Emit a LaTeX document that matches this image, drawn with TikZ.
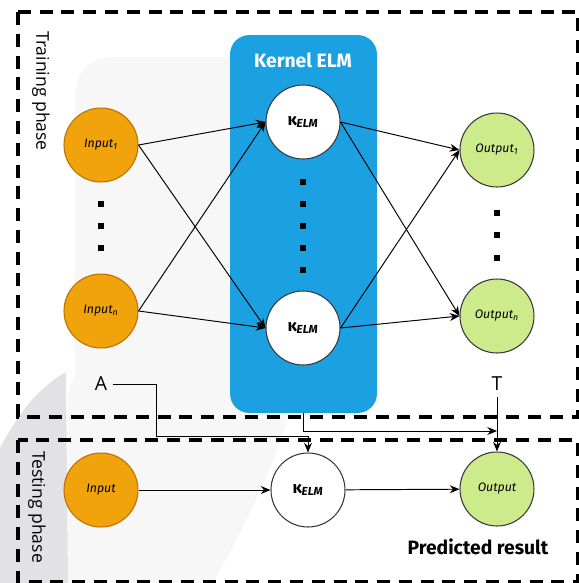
\documentclass[tikz,border=0pt]{standalone}
\usepackage{fontspec}
\setmainfont{Open Sans}
\newfontfamily\handfont{Fira Sans}
\usetikzlibrary{arrows.meta}
\definecolor{kblue}{HTML}{1BA1E2}
\definecolor{infill}{HTML}{F0A30A}
\definecolor{inline}{HTML}{BD7000}
\definecolor{outfill}{HTML}{CDEB8B}
\definecolor{nodeline}{HTML}{36393D}
\definecolor{bglight}{HTML}{F7F7F7}
\definecolor{bgdark}{HTML}{E2E2E5}

\begin{document}
\begin{tikzpicture}[x=0.02cm, y=-0.02cm,
    every node/.style={font=\fontsize{11}{13}\selectfont},
    innode/.style={circle, draw=inline, fill=infill, line width=0.6pt, minimum size=1.48cm, inner sep=0pt, font=\handfont\itshape\fontsize{7}{8}\selectfont},
    outnode/.style={innode, draw=nodeline, fill=outfill},
    kernode/.style={innode, draw=nodeline, fill=white, font=\handfont\bfseries\fontsize{9.5}{10}\selectfont},
    sqdot/.style={rectangle, fill=black, minimum size=0.11cm, inner sep=0pt},
    wire/.style={-{Stealth[length=5.5pt, width=4.5pt]}, line width=0.55pt},
    phasebox/.style={line width=1.8pt, dash pattern=on 7.4pt off 5pt}]
  \useasboundingbox (0,0) rectangle (579,583);
  \fill[bglight] (213,583) .. controls (245,525) and (285,450) .. (297,380) -- (297,57) -- (118,57)
    .. controls (88,57) and (75,70) .. (75,100) -- (75,375) -- (68,392) -- (68,583) -- cycle;
  \fill[bgdark] (0,448) .. controls (20,410) and (42,385) .. (66,372) -- (68,583) -- (0,583) -- cycle;
  \draw[phasebox] (18,12) rectangle (578,417);
  \draw[phasebox] (18,440) rectangle (578,582);
  \node[rotate=-90, font=\fontsize{10}{12}\selectfont] (trainlbl) at (41,91) {Training phase};
  \node[rotate=-90, font=\fontsize{10}{12}\selectfont] (testlbl) at (37,507) {Testing phase};
  \node[fill=kblue, rounded corners=11pt, minimum width=2.94cm, minimum height=7.56cm] (kbox) at (303.5,224) {};
  \node[text=white, font=\handfont\bfseries\fontsize{11}{13}\selectfont] (ktitle) at (303,60) {Kernel ELM};
  \node[innode] (in1) at (101,145) {Input\textsubscript{1}};
  \node[innode] (inn) at (101,311) {Input\textsubscript{n}};
  \node[kernode] (k1) at (303,122) {κ\textsubscript{\itshape ELM}};
  \node[kernode] (kn) at (303,328) {κ\textsubscript{\itshape ELM}};
  \node[outnode] (out1) at (497,150) {Output\textsubscript{1}};
  \node[outnode] (outn) at (497,316) {Output\textsubscript{n}};
  \foreach \y in {204,226,248} \node[sqdot] (ind\y) at (101,\y) {};
  \foreach \y in {182,204,226,248,270} \node[sqdot] (kd\y) at (303,\y) {};
  \foreach \y in {213,235,258} \node[sqdot] (outd\y) at (497,\y) {};
  \foreach \a in {in1,inn}{
    \foreach \b in {k1,kn} \draw[wire] (\a.east) -- (\b.west);
  }
  \foreach \a in {k1,kn}{
    \foreach \b in {out1,outn} \draw[wire] (\a.east) -- (\b.west);
  }
  \node[innode] (tin) at (101,490) {Input};
  \node[kernode] (tk) at (308,490) {κ\textsubscript{\itshape ELM}};
  \node[outnode] (tout) at (497,489) {Output};
  \node (alabel) at (101,384) {A};
  \node (tlabel) at (497,384) {T};
  \node[font=\handfont\bfseries\fontsize{11}{13}\selectfont] (pred) at (478,547) {Predicted result};
  \draw[wire] (tin) -- (tk);
  \draw[wire] (tk) -- (tout);
  \coordinate (abend) at (156,436);
  \coordinate (tjoin) at (497,431);
  \draw[wire] (alabel.east) -| (abend) -| (tk.north);
  \draw[wire] (kbox.south) |- (tjoin);
  \draw[wire] (tlabel.south) -- (tout.north);
\end{tikzpicture}
\end{document}
